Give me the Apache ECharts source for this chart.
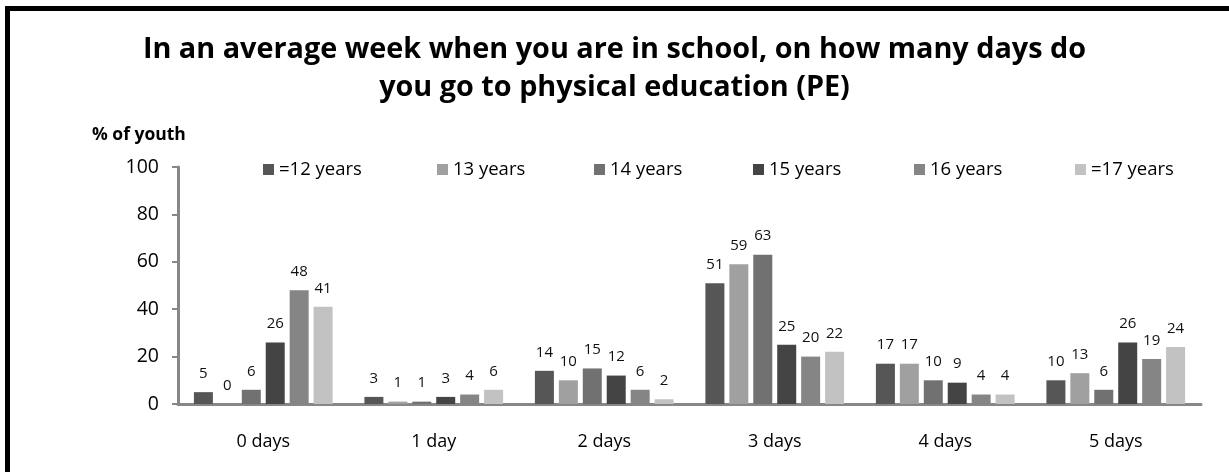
<!DOCTYPE html>
<html>
<head>
<meta charset="utf-8">
<script src="https://cdn.jsdelivr.net/npm/echarts@6/dist/echarts.min.js"></script>
<style>
    html, body { margin: 0; padding: 0; background: #fff; }
    #chart { width: 1229px; height: 472px; }
</style>
</head>
<body>
<div id="chart"></div>
<script>
// data
const categories = ['0 days', '1 day', '2 days', '3 days', '4 days', '5 days']
const seriesNames = ['=12 years', '13 years', '14 years', '15 years', '16 years', '=17 years']
const age12 = [5, 3, 14, 51, 17, 10]
const age13 = [0, 1, 10, 59, 17, 13]
const age14 = [6, 1, 15, 63, 10, 6]
const age15 = [26, 3, 12, 25, 9, 26]
const age16 = [48, 4, 6, 20, 4, 19]
const age17 = [41, 6, 2, 22, 4, 24]
const yTicks = [0, 20, 40, 60, 80, 100]

const values = [age12, age13, age14, age15, age16, age17]
const colors = ['#565656', '#a0a0a0', '#717171', '#444444', '#858585', '#c2c2c2']
// left edge of each legend marker
const legendLeft = [263, 437, 594, 753, 914, 1075]
const font = 'Open Sans'

const myChart = echarts.init(document.getElementById('chart'))

myChart.setOption({
    animation: false,
    title: [
        {
            text: 'In an average week when you are in school, on how many days do\nyou go to physical education (PE)',
            left: 'center',
            top: 31,
            padding: [0, 0, 0, 16],
            textStyle: {
                fontFamily: font,
                fontWeight: 'bold',
                fontSize: 28.8,
                lineHeight: 38,
                color: '#000'
            }
        },
        {
            text: '% of youth',
            left: 92,
            top: 126,
            padding: 0,
            textStyle: {
                fontFamily: font,
                fontWeight: 'bold',
                fontSize: 17.5,
                color: '#000'
            }
        }
    ],
    legend: seriesNames.map((name, i) => ({
        data: [name],
        left: legendLeft[i],
        top: 160,
        padding: 0,
        icon: 'rect',
        itemWidth: 11,
        itemHeight: 11,
        itemGap: 0,
        textStyle: {
            fontFamily: font,
            fontSize: 18.5,
            color: '#000'
        }
    })),
    grid: {
        left: 178,
        right: 28,
        top: 167,
        bottom: 68
    },
    xAxis: {
        type: 'category',
        data: categories,
        axisLine: {
            show: true,
            lineStyle: { color: '#878787', width: 3 }
        },
        axisTick: { show: false },
        axisLabel: {
            margin: 29,
            fontFamily: font,
            fontSize: 18,
            color: '#000'
        }
    },
    yAxis: {
        type: 'value',
        min: yTicks[0],
        max: yTicks[yTicks.length - 1],
        interval: yTicks[1] - yTicks[0],
        splitLine: { show: false },
        axisLine: {
            show: true,
            lineStyle: { color: '#878787', width: 3 }
        },
        axisTick: {
            show: true,
            length: 6,
            lineStyle: { color: '#878787', width: 2 }
        },
        axisLabel: {
            margin: 19,
            fontFamily: font,
            fontSize: 19.5,
            color: '#000'
        }
    },
    series: values.map((data, i) => ({
        name: seriesNames[i],
        type: 'bar',
        data: data,
        barWidth: 19,
        barGap: '26%',
        itemStyle: { color: colors[i] },
        label: {
            show: true,
            position: 'top',
            distance: 11,
            fontFamily: font,
            fontSize: 15,
            color: '#111'
        }
    })),
    graphic: [
        {
            type: 'rect',
            shape: { x: 7.5, y: 8.5, width: 1260, height: 500 },
            style: { fill: null, stroke: '#000', lineWidth: 5 },
            silent: true
        }
    ]
})
</script>
</body>
</html>
